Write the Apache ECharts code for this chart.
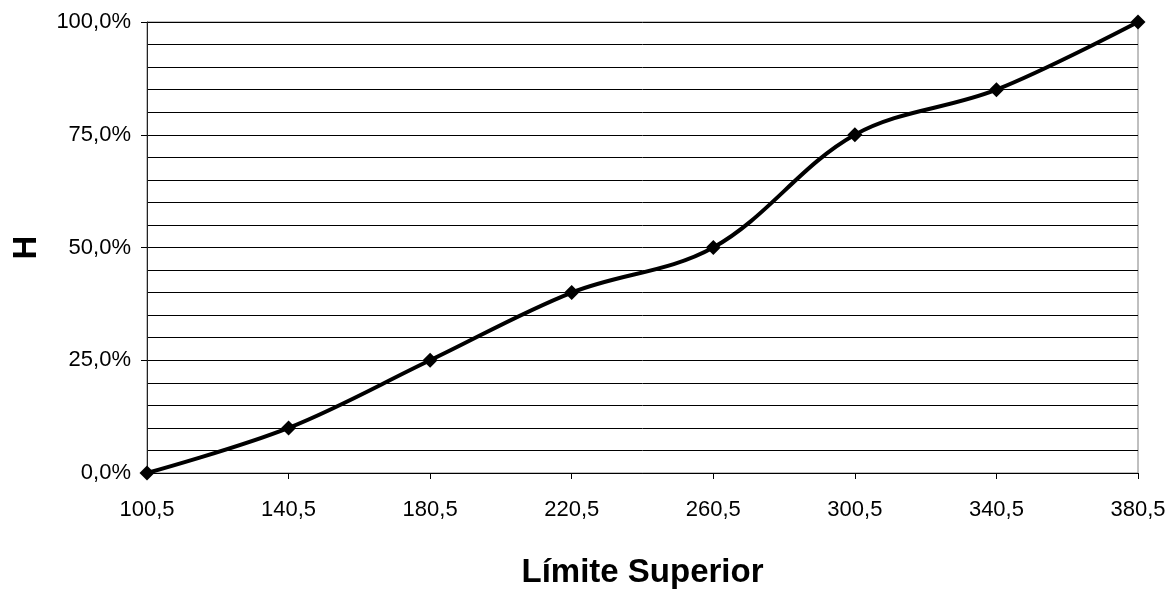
<!DOCTYPE html>
<html>
<head>
<meta charset="utf-8">
<script src="https://cdn.jsdelivr.net/npm/echarts@6/dist/echarts.min.js"></script>
<style>html,body{margin:0;padding:0;background:#fff}#c{width:1176px;height:590px}</style>
</head>
<body>
<div id="c"></div>
<script>
const categories = ['100,5','140,5','180,5','220,5','260,5','300,5','340,5','380,5'];
const hValues = [0, 0.10, 0.25, 0.40, 0.50, 0.75, 0.85, 1.00];
const xTitle = 'Límite Superior';
const yTitle = 'H';

const FONT = '"Liberation Sans", Arial, sans-serif';
const chart = echarts.init(document.getElementById('c'));
chart.setOption({
  animation: false,
  backgroundColor: '#fff',
  textStyle: { fontFamily: FONT },
  grid: { left: 147, right: 38, top: 22, bottom: 117, show: true, borderColor: '#808080', borderWidth: 1, outerBoundsMode: 'none', containLabel: false },
  xAxis: {
    type: 'category',
    data: categories,
    boundaryGap: false,
    name: xTitle,
    nameLocation: 'middle',
    nameGap: 83,
    nameTextStyle: { fontSize: 33, fontWeight: 'bold', color: '#000', fontFamily: FONT },
    axisLine: { lineStyle: { color: '#000', width: 1 } },
    axisTick: { show: true, length: 6, lineStyle: { color: '#000' } },
    axisLabel: { fontSize: 22, color: '#000', margin: 26, fontFamily: FONT },
    splitLine: { show: false }
  },
  yAxis: {
    type: 'value',
    min: 0, max: 1, interval: 0.25,
    name: yTitle,
    nameLocation: 'middle',
    nameGap: 104,
    nameRotate: 90,
    nameTextStyle: { fontSize: 33, fontWeight: 'bold', color: '#000', fontFamily: FONT },
    axisLine: { show: true, lineStyle: { color: '#222', width: 1 } },
    axisTick: { show: true, length: 6, lineStyle: { color: '#000' } },
    axisLabel: { fontSize: 22, color: '#000', margin: 16, fontFamily: FONT,
      formatter: v => (v*100).toFixed(1).replace('.', ',') + '%' },
    splitLine: { show: true, lineStyle: { color: '#000', width: 1 } },
    minorTick: { show: false, splitNumber: 5 },
    minorSplitLine: { show: true, lineStyle: { color: '#000', width: 1 } }
  },
  series: [{
    type: 'line',
    data: hValues,
    smooth: 0.35,
    symbol: 'diamond',
    symbolSize: 15,
    lineStyle: { color: '#000', width: 4 },
    itemStyle: { color: '#000' }
  }]
});
</script>
</body>
</html>
